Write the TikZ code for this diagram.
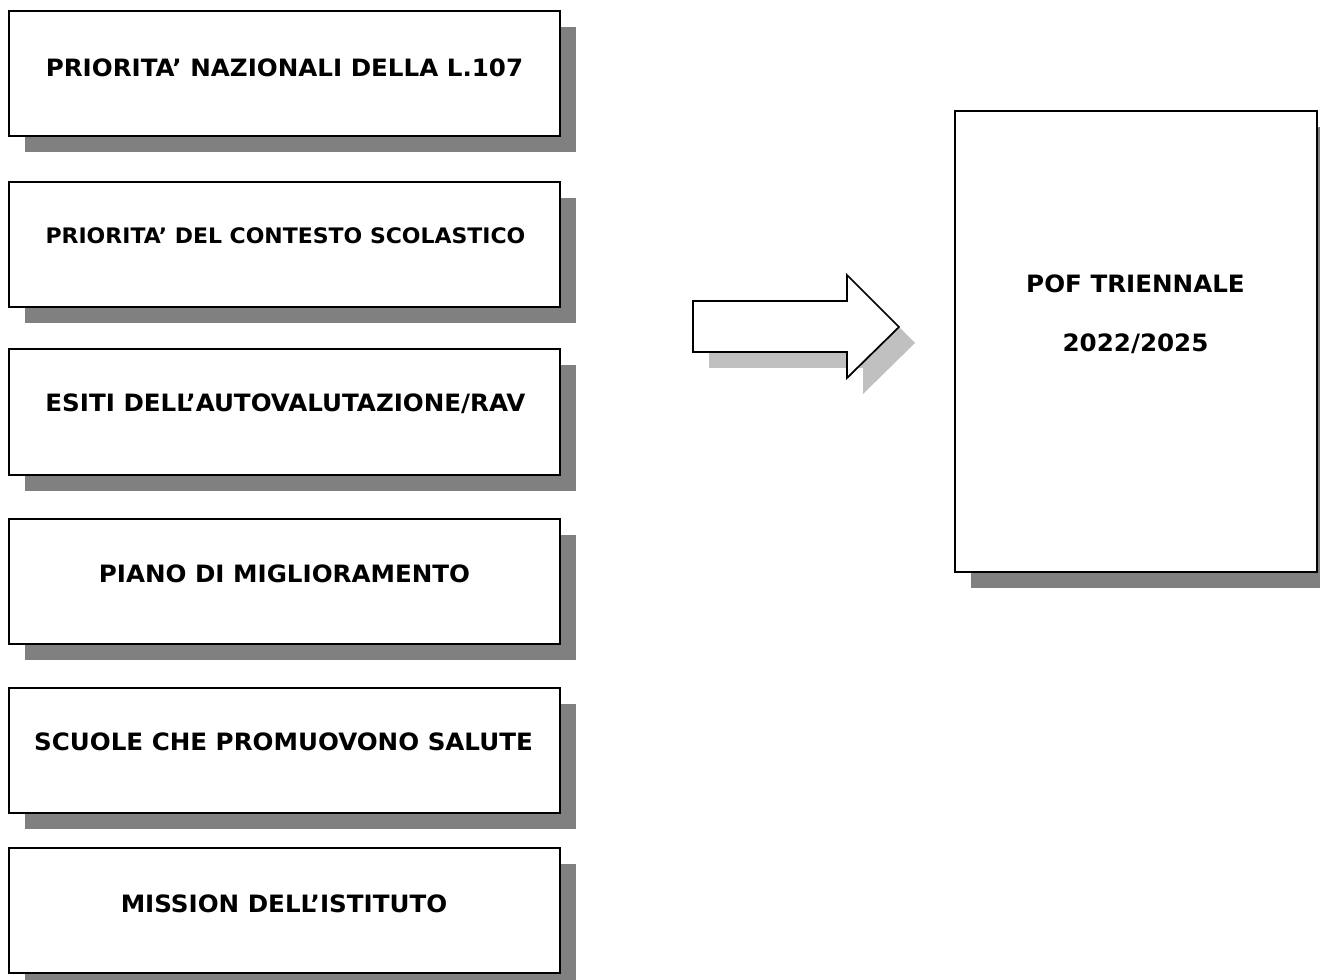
\documentclass[tikz,border=0pt]{standalone}
\usepackage{fontspec}
\newfontfamily\vfont[FakeStretch=1.03]{DejaVu Sans}
\usetikzlibrary{shadows}
\definecolor{shgray}{HTML}{808080}
\definecolor{arrgray}{HTML}{C0C0C0}
\tikzset{
  inbox/.style={draw=black, line width=1.5pt, fill=white, rectangle, inner sep=0pt,
    minimum width=413.25pt, minimum height=93.75pt,
    drop shadow={shadow xshift=12pt, shadow yshift=-12pt, fill=shgray, opacity=1}},
  bigbox/.style={draw=black, line width=1.5pt, fill=white, rectangle, inner sep=0pt,
    minimum width=271.5pt, minimum height=345.4pt,
    drop shadow={shadow xshift=12pt, shadow yshift=-12pt, fill=shgray, opacity=1}},
  lbl/.style={anchor=base, inner sep=0pt, font=\vfont\bfseries\fontsize{17.9pt}{21pt}\selectfont},
  lblsmall/.style={anchor=base, inner sep=0pt, font=\vfont\bfseries\fontsize{16pt}{19pt}\selectfont},
}
\begin{document}
\begin{tikzpicture}[x=0.75pt,y=-0.75pt]
\useasboundingbox (0,0) rectangle (1320,980);
% left boxes
\node[inbox] (b1) at (284.5,73.5) {};
\node[inbox] (b2) at (284.5,244.5) {};
\node[inbox] (b3) at (284.5,412) {};
\node[inbox] (b4) at (284.5,581) {};
\node[inbox] (b5) at (284.5,750) {};
\node[inbox] (b6) at (284.5,910) {};
\node[lbl] (t1) at (284.5,77) {PRIORITA’ NAZIONALI DELLA L.107};
\node[lblsmall] (t2) at (285.5,243.3) {PRIORITA’ DEL CONTESTO SCOLASTICO};
\node[lbl] (t3) at (285.5,411.7) {ESITI DELL’AUTOVALUTAZIONE/RAV};
\node[lbl] (t4) at (284.5,582) {PIANO DI MIGLIORAMENTO};
\node[lbl] (t5) at (283.5,750.5) {SCUOLE CHE PROMUOVONO SALUTE};
\node[lbl] (t6) at (284,912.7) {MISSION DELL’ISTITUTO};
% big arrow with shadow
\fill[arrgray] (709,317) -- (863,317) -- (863,291) -- (915,343) -- (863,394) -- (863,368) -- (709,368) -- cycle;
\draw[line width=1.3pt, fill=white, line join=miter] (693,301) -- (847,301) -- (847,275) -- (899,327) -- (847,378) -- (847,352) -- (693,352) -- cycle;
% right box
\node[bigbox] (pof) at (1135.5,341.75) {};
\node[lbl] (p1) at (1135.5,293) {POF TRIENNALE};
\node[lbl] (p2) at (1135.5,351.5) {2022/2025};
\end{tikzpicture}
\end{document}
